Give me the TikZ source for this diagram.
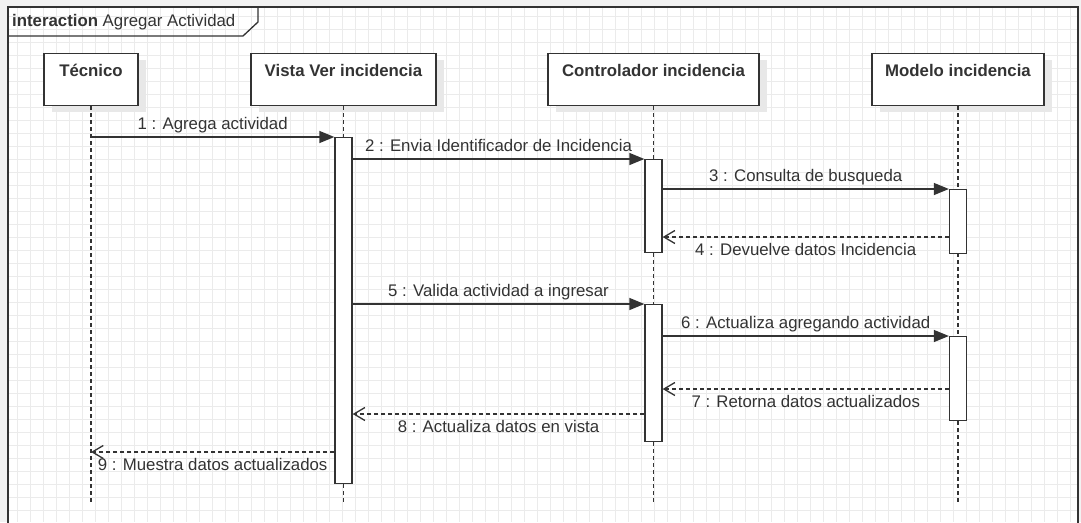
\documentclass[tikz,border=0pt]{standalone}
\usepackage{fontspec}
\setmainfont{Liberation Sans}
\usetikzlibrary{arrows.meta,shadows}
\definecolor{ln}{HTML}{333333}
\definecolor{gridc}{HTML}{EBEBEB}
\definecolor{outc}{HTML}{F2F2F2}
\definecolor{shadc}{HTML}{E8E8E8}
\tikzset{
  txt/.style={font=\fontsize{16.8}{19}\selectfont, text=ln},
  lifebox/.style={txt, draw=ln, line width=1.3pt, fill=white, anchor=north,
    inner xsep=0pt, inner ysep=0pt, text height=23pt, text depth=29pt,
    font=\fontsize{16.8}{19}\selectfont\bfseries,
    drop shadow={shadow xshift=8pt, shadow yshift=-6pt, fill=shadc, opacity=1}},
  lifeline/.style={draw=ln, line width=1.3pt, dash pattern=on 4pt off 3pt},
  actbar/.style={draw=ln, line width=1.3pt, fill=white, anchor=north,
    minimum width=17pt, inner sep=0pt},
  syncmsg/.style={draw=ln, line width=1.3pt, -{Triangle[length=15pt,width=12pt]}},
  retmsg/.style={draw=ln, line width=1.3pt, dash pattern=on 4pt off 3pt,
    -{Straight Barb[length=11pt,width=13pt]}},
  lblup/.style={txt, midway, anchor=base, yshift=8pt, inner sep=0pt},
  lbldown/.style={txt, midway, anchor=base, yshift=-18pt, inner sep=0pt},
}
\begin{document}
\begin{tikzpicture}[x=1pt,y=-1pt]
\useasboundingbox (0,0) rectangle (1081,522);
% background
\fill[outc] (0,0) rectangle (1081,522);
\fill[white] (8,7) rectangle (1078,530);
\begin{scope}
\clip (8,7) rectangle (1078,522);
\foreach \gx in {0,...,83} {\draw[gridc, line width=1pt] ({4+13*\gx},0) -- ({4+13*\gx},522);}
\foreach \gy in {0,...,40} {\draw[gridc, line width=1pt] (0,{3+13*\gy}) -- (1081,{3+13*\gy});}
\end{scope}
% frame
\draw[ln, line width=1.3pt] (8,530) -- (8,7) -- (1078,7) -- (1078,530);
\draw[ln, line width=1.3pt] (8,36) -- (243,36) -- (258,22) -- (258,7);
\node[txt, anchor=base west, inner sep=0pt] (title) at (12,27) {\textbf{interaction} Agregar Actividad};

% lifeline heads
\node[lifebox, minimum width=94pt]  (tec) at (91,53)    {Técnico};
\node[lifebox, minimum width=185pt] (vis) at (343.5,53) {Vista Ver incidencia};
\node[lifebox, minimum width=211pt] (con) at (653.5,53) {Controlador incidencia};
\node[lifebox, minimum width=172pt] (mod) at (958,53)   {Modelo incidencia};

\coordinate (bot) at (0,502);
\draw[lifeline] (tec.south) -- (tec.south |- bot);
\draw[lifeline] (vis.south) -- (vis.south |- bot);
\draw[lifeline] (con.south) -- (con.south |- bot);
\draw[lifeline] (mod.south) -- (mod.south |- bot);

% activations
\node[actbar, minimum height=346pt] (vA)  at (343.5,137) {};
\node[actbar, minimum height=93pt]  (cA1) at (653.5,159) {};
\node[actbar, minimum height=64pt]  (mA1) at (958,189)   {};
\node[actbar, minimum height=137pt] (cA2) at (653.5,304) {};
\node[actbar, minimum height=84pt]  (mA2) at (958,336)   {};

% messages
\coordinate (m4) at (0,237);
\coordinate (m7) at (0,389);
\coordinate (m8) at (0,414);
\coordinate (m9) at (0,452);

\draw[syncmsg] (tec.south |- vA.north) -- (vA.north west) node[lblup] {1 : Agrega actividad};
\draw[syncmsg] (vA.east |- cA1.north) -- (cA1.north west) node[lblup] {2 : Envia Identificador de Incidencia};
\draw[syncmsg] (cA1.east |- mA1.north) -- (mA1.north west) node[lblup] {3 : Consulta de busqueda};
\draw[retmsg] (mA1.west |- m4) -- (cA1.east |- m4) node[lbldown] {4 : Devuelve datos Incidencia};
\draw[syncmsg] (vA.east |- cA2.north) -- (cA2.north west) node[lblup] {5 : Valida actividad a ingresar};
\draw[syncmsg] (cA2.east |- mA2.north) -- (mA2.north west) node[lblup] {6 : Actualiza agregando actividad};
\draw[retmsg] (mA2.west |- m7) -- (cA2.east |- m7) node[lbldown] {7 : Retorna datos actualizados};
\draw[retmsg] (cA2.west |- m8) -- (vA.east |- m8) node[lbldown] {8 : Actualiza datos en vista};
\draw[retmsg] (vA.west |- m9) -- (tec.south |- m9) node[lbldown] {9 : Muestra datos actualizados};
\end{tikzpicture}
\end{document}
